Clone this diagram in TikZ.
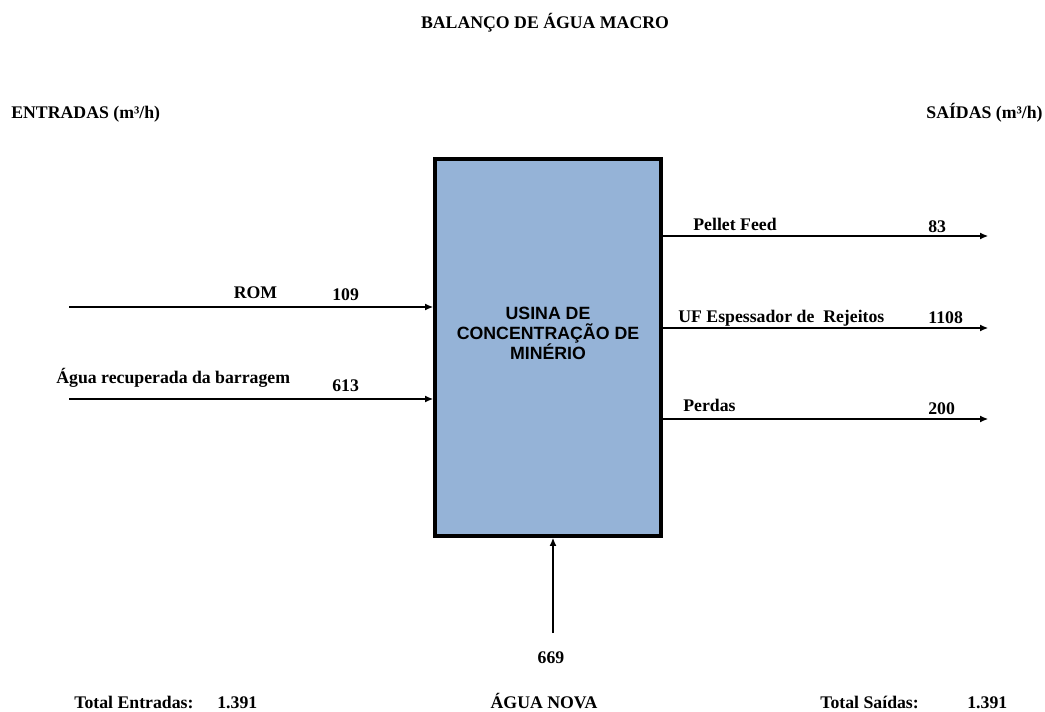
\documentclass[tikz,border=0pt]{standalone}
\usepackage{fontspec}
\setmainfont{Liberation Serif}
\setsansfont{Liberation Sans}
\usetikzlibrary{arrows.meta}
\definecolor{azulusina}{RGB}{149,179,215}
\tikzset{>={Latex[length=1.6mm,width=1.4mm]}}

\begin{document}
\begin{tikzpicture}[x=0.02cm, y=-0.02cm,
        lbl/.style={font=\fontsize{10.1}{12}\selectfont\bfseries, inner sep=0pt},
        flow/.style={->, line width=0.6pt}]
        \useasboundingbox (0,0) rectangle (1045,711);

        % Titulos
        \node[lbl, anchor=base] (titulo) at (545,28) {BALANÇO DE ÁGUA MACRO};
        \node[lbl, anchor=base west] (entradas) at (11,118) {ENTRADAS (m³/h)};
        \node[lbl, anchor=base east] (saidas) at (1043,118) {SAÍDAS (m³/h)};

        % Usina
        \node[draw, line width=2.3pt, fill=azulusina, inner sep=0pt,
            minimum width=4.52cm, minimum height=7.54cm] (usina) at (548,347.5) {};
        \node[font=\fontsize{10.1}{11.4}\selectfont\sffamily\bfseries, align=center, inner sep=0pt]
            (usinatxt) at (548,333.5) {USINA DE\\CONCENTRAÇÃO DE\\MINÉRIO};

        % Entradas
        \coordinate (rom) at (69,307);
        \coordinate (agua) at (69,399);
        \draw[flow] (rom) -- (rom -| usina.west);
        \draw[flow] (agua) -- (agua -| usina.west);
        \node[lbl, anchor=base] (romlbl) at (255.5,298) {ROM};
        \node[lbl, anchor=base west] (romval) at (332,300) {109};
        \node[lbl, anchor=base west] (agualbl) at (56,383) {Água recuperada da barragem};
        \node[lbl, anchor=base west] (aguaval) at (332,391) {613};

        % Saidas
        \coordinate (pellet) at (988,236);
        \coordinate (uf) at (988,328);
        \coordinate (perdas) at (988,419);
        \draw[flow] (pellet -| usina.east) -- (pellet);
        \draw[flow] (uf -| usina.east) -- (uf);
        \draw[flow] (perdas -| usina.east) -- (perdas);
        \node[lbl, anchor=base west] (pelletlbl) at (693,230) {Pellet Feed};
        \node[lbl, anchor=base west] (pelletval) at (928,232) {83};
        \node[lbl, anchor=base west] (uflbl) at (678,322) {UF Espessador de~~Rejeitos};
        \node[lbl, anchor=base west] (ufval) at (928,323) {1108};
        \node[lbl, anchor=base west] (perdaslbl) at (683,411) {Perdas};
        \node[lbl, anchor=base west] (perdasval) at (928,414) {200};

        % Agua nova
        \coordinate (nova) at (553,633);
        \draw[flow] (nova) -- (nova |- usina.south);
        \node[lbl, anchor=base] (novaval) at (551,663) {669};

        % Totais
        \node[lbl, anchor=base west] (totent) at (74,708) {Total Entradas:};
        \node[lbl, anchor=base west] (totentval) at (217,708) {1.391};
        \node[lbl, anchor=base] (novalbl) at (544,708) {ÁGUA NOVA};
        \node[lbl, anchor=base west] (totsai) at (820,708) {Total Saídas:};
        \node[lbl, anchor=base west] (totsaival) at (967,708) {1.391};
\end{tikzpicture}
\end{document}
